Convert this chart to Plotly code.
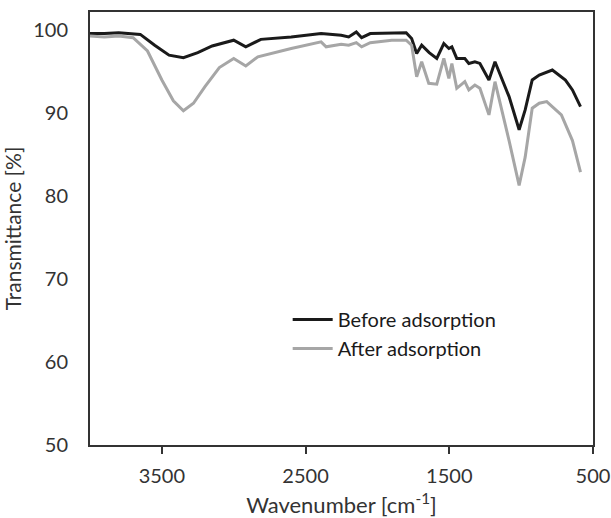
import plotly.graph_objects as go

# Wavenumber (cm^-1) and transmittance (%)
wn_before = [4000, 3900, 3800, 3700, 3650, 3550, 3450, 3350, 3250, 3150, 3000, 2916, 2811, 2600, 2392, 2252,
             2200, 2147, 2110, 2050, 1900, 1800, 1762, 1727, 1692, 1640, 1587, 1538, 1503, 1482, 1448,
             1392, 1364, 1322, 1287, 1224, 1182, 1133, 1084, 1014, 972, 923, 874, 783, 692, 643, 587]
tr_before = [99.6, 99.6, 99.7, 99.6, 99.5, 98.2, 97.0, 96.7, 97.3, 98.1, 98.8, 98.0, 98.9, 99.2, 99.6, 99.4,
             99.2, 99.8, 99.1, 99.6, 99.7, 99.7, 99.0, 97.2, 98.2, 97.3, 96.6, 98.4, 97.8, 98.0, 96.6,
             96.6, 96.0, 96.2, 96.0, 94.0, 96.2, 94.2, 92.0, 88.0, 90.4, 94.0, 94.6, 95.2, 94.0, 92.8, 90.8]

wn_after = [4000, 3900, 3800, 3700, 3600, 3500, 3420, 3350, 3280, 3200, 3100, 3000, 2916, 2832, 2600, 2392,
            2357, 2252, 2200, 2147, 2110, 2050, 1900, 1800, 1762, 1727, 1692, 1643, 1587, 1538, 1503,
            1482, 1448, 1392, 1364, 1322, 1287, 1224, 1182, 1133, 1084, 1014, 972, 923, 874, 822, 720,
            643, 587]
tr_after = [99.3, 99.2, 99.3, 99.1, 97.5, 94.0, 91.5, 90.3, 91.2, 93.2, 95.5, 96.6, 95.7, 96.8, 97.8, 98.6,
            98.0, 98.3, 98.2, 98.5, 98.0, 98.5, 98.8, 98.8, 98.2, 94.4, 96.2, 93.6, 93.5, 96.6, 94.2,
            96.0, 93.0, 93.8, 92.8, 93.4, 93.0, 89.8, 93.8, 90.4, 86.7, 81.3, 84.7, 90.6, 91.2, 91.4, 89.8,
            86.7, 82.9]

x_ticks = [3500, 2500, 1500, 500]
y_ticks = [50, 60, 70, 80, 90, 100]

FONT = "Lato"
TXT = "#333333"

fig = go.Figure()
fig.add_trace(go.Scatter(x=wn_before, y=tr_before, mode="lines", name="Before adsorption",
                         line=dict(color="#1a1a1a", width=3)))
fig.add_trace(go.Scatter(x=wn_after, y=tr_after, mode="lines", name="After adsorption",
                         line=dict(color="#a6a6a6", width=3)))

fig.update_layout(
    width=611, height=518,
    margin=dict(l=90, r=18, t=12, b=73, autoexpand=False),
    paper_bgcolor="white", plot_bgcolor="white",
    font=dict(family=FONT, size=20, color=TXT),
    showlegend=True,
    legend=dict(x=0.393, y=0.335, xanchor="left", yanchor="top", bgcolor="rgba(0,0,0,0)",
                font=dict(family=FONT, size=20, color="#1a1a1a"), tracegroupgap=0, itemwidth=40),
    xaxis=dict(range=[4000, 500], tickvals=x_ticks, ticktext=[str(v) for v in x_ticks],
               showgrid=False, zeroline=False, showline=True, linecolor="#333333", linewidth=2,
               mirror=True, ticks="outside", ticklen=7, tickwidth=2, tickcolor="#333333",
               automargin=False, tickfont=dict(size=20), ticklabelstandoff=5,
               ticklabeloverflow="allow",
               title=dict(text="Wavenumber [cm<sup>-1</sup>]", font=dict(family=FONT, size=22, color=TXT), standoff=13)),
    yaxis=dict(range=[50, 102.2], tickvals=y_ticks, ticktext=[str(v) for v in y_ticks],
               showgrid=False, zeroline=False, showline=True, linecolor="#333333", linewidth=2,
               mirror=True, ticks="", ticklabelstandoff=16, automargin=False, tickfont=dict(size=20),
               title=dict(text="Transmittance [%]", font=dict(family=FONT, size=21, color=TXT), standoff=6)),
)

# remove the browser's default 8px body margin so the figure fills the window exactly
fig.write_html("out.html", config={"displayModeBar": False},
               post_script="document.body.style.margin='0';document.body.style.overflow='hidden';")
